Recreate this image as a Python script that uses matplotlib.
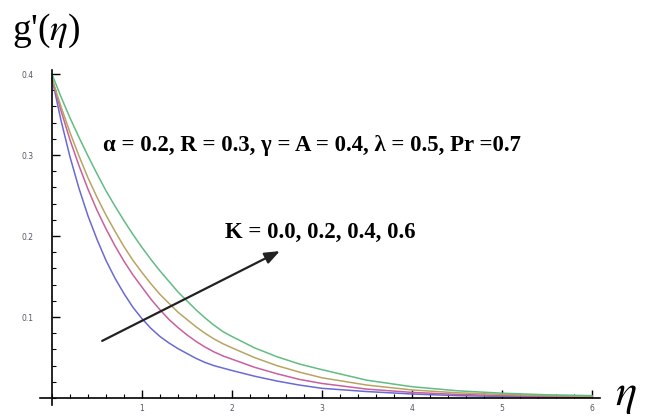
import numpy as np
import matplotlib.pyplot as plt
from matplotlib.ticker import MultipleLocator

plt.rcParams['mathtext.fontset'] = 'stix'

# values (eta vs g'(eta)), one list per K
eta = [0, 0.1, 0.2, 0.3, 0.4, 0.5, 0.6, 0.7, 0.8, 0.9, 1.0,
       1.1, 1.2, 1.3, 1.4, 1.5, 1.6, 1.7, 1.8, 1.9, 2.0,
       2.25, 2.5, 2.75, 3.0, 3.5, 4.0, 4.5, 5.0, 5.5, 6.0]
g_k00 = [0.395, 0.343, 0.298, 0.259, 0.225, 0.196, 0.170, 0.148, 0.129, 0.112, 0.098,
         0.086, 0.076, 0.068, 0.061, 0.055, 0.049, 0.044, 0.040, 0.037, 0.034,
         0.027, 0.021, 0.016, 0.012, 0.008, 0.005, 0.003, 0.002, 0.0015, 0.001]
g_k02 = [0.395, 0.355, 0.319, 0.287, 0.258, 0.232, 0.209, 0.188, 0.169, 0.152, 0.137,
         0.122, 0.109, 0.097, 0.087, 0.078, 0.070, 0.063, 0.057, 0.052, 0.048,
         0.038, 0.030, 0.023, 0.018, 0.011, 0.007, 0.0045, 0.003, 0.002, 0.0014]
g_k04 = [0.395, 0.360, 0.328, 0.299, 0.272, 0.248, 0.226, 0.206, 0.187, 0.170, 0.155,
         0.141, 0.128, 0.117, 0.106, 0.097, 0.088, 0.080, 0.073, 0.067, 0.062,
         0.050, 0.040, 0.032, 0.025, 0.016, 0.010, 0.0065, 0.0045, 0.003, 0.002]
g_k06 = [0.400, 0.372, 0.346, 0.322, 0.299, 0.277, 0.256, 0.237, 0.219, 0.202, 0.186,
         0.171, 0.157, 0.144, 0.131, 0.120, 0.109, 0.099, 0.090, 0.082, 0.076,
         0.062, 0.051, 0.042, 0.035, 0.022, 0.014, 0.009, 0.006, 0.004, 0.003]
colors = ['#6a6ad2', '#c8609e', '#b8a462', '#62bc84']

fig = plt.figure(figsize=(6.49, 4.20), dpi=100)
ax = fig.add_axes([0.0616, 0.0357, 0.863, 0.7976])

for g, c in zip([g_k00, g_k02, g_k04, g_k06], colors):
    ax.plot(eta, g, color=c, lw=1.1)

ax.set_xlim(-0.133, 6.09)
ax.set_ylim(-0.0086, 0.405)

for s in ['top', 'right']:
    ax.spines[s].set_visible(False)
ax.spines['left'].set_position(('data', 0))
ax.spines['bottom'].set_position(('data', 0))
ax.spines['left'].set_linewidth(1.2)
ax.spines['bottom'].set_linewidth(1.2)

ax.xaxis.set_minor_locator(MultipleLocator(0.2))
ax.yaxis.set_minor_locator(MultipleLocator(0.02))
ax.set_xticks([1, 2, 3, 4, 5, 6])
ax.set_yticks([0.1, 0.2, 0.3, 0.4])
ax.set_xticklabels(['1', '2', '3', '4', '5', '6'])
ax.set_yticklabels(['0.1', '0.2', '0.3', '0.4'])
ax.tick_params(which='major', direction='in', length=6, width=1, labelsize=5.5,
               labelcolor='#556')
ax.tick_params(axis='y', which='major', pad=13)
ax.tick_params(axis='x', which='major', pad=4)
ax.tick_params(which='minor', direction='in', length=3, width=0.8)

ax.text(-0.44, 0.442, "g'($\\eta$)", family='Liberation Serif', fontsize=27,
        ha='left', va='baseline')
ax.text(6.26, 0.004, r"$\eta$", fontsize=32, ha='left', va='center')

ax.text(0.567, 0.312, "α = 0.2, R = 0.3, γ = A = 0.4, λ = 0.5, Pr =0.7",
        family='Liberation Serif', fontweight='bold', fontsize=16.4, ha='left', va='center')
ax.text(1.92, 0.204, "K = 0.0, 0.2, 0.4, 0.6",
        family='Liberation Serif', fontweight='bold', fontsize=16.4, ha='left', va='center')

ax.annotate('', xy=(2.56, 0.183), xytext=(0.53, 0.069),
            arrowprops=dict(arrowstyle='-|>,head_length=0.9,head_width=0.35',
                            color='#222', lw=1.6))

fig.savefig('out.png', dpi=100)
